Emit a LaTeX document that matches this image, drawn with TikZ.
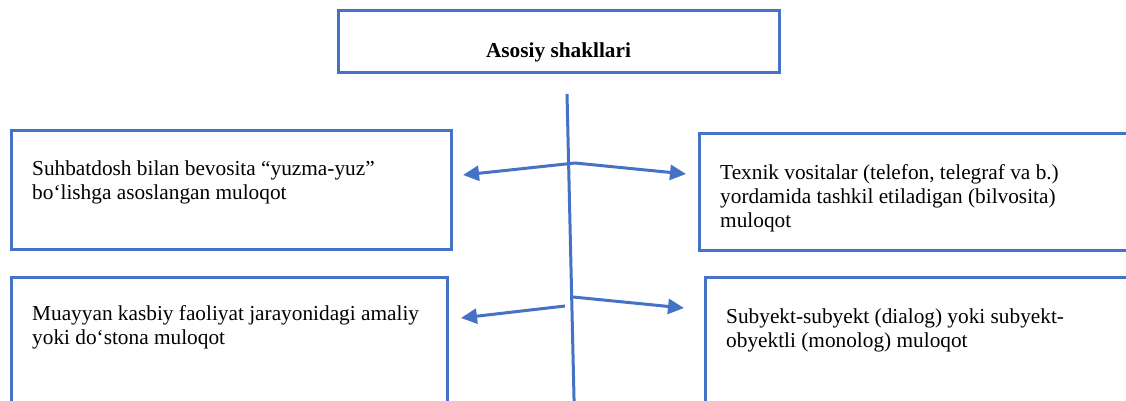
\documentclass[tikz,border=0pt]{standalone}
\usepackage{fontspec}
\setmainfont{Liberation Serif}
\usetikzlibrary{arrows.meta}
\definecolor{officeblue}{HTML}{4472C4}
\tikzset{
  boxshape/.style={draw=officeblue, line width=3pt, rectangle, inner sep=0pt},
  label/.style={anchor=base west, inner sep=0pt, font=\fontsize{21.3}{24}\selectfont, text=black},
  conn/.style={draw=officeblue, line width=3pt},
  arr/.style={conn, -{Triangle[length=16pt,width=15pt]}}
}
\begin{document}
\begin{tikzpicture}[x=1pt,y=-1pt]
\useasboundingbox (0,0) rectangle (1126,401);
\clip (0,0) rectangle (1126,401);
\fill[white] (0,0) rectangle (1126,401);
% boxes
\node[boxshape, minimum width=441pt, minimum height=62pt] (top) at (558.5,42) {};
\node[boxshape, minimum width=440pt, minimum height=119pt] (lb1) at (231,189.5) {};
\node[boxshape, minimum width=500pt, minimum height=117pt] (rb1) at (949,191.5) {};
\node[boxshape, minimum width=436pt, minimum height=243pt] (lb2) at (229,398.5) {};
\node[boxshape, minimum width=500pt, minimum height=243pt] (rb2) at (955,398.5) {};
% texts
\node[anchor=base, inner sep=0pt, font=\fontsize{21.3}{24}\selectfont\bfseries] (title) at (558.5,58) {Asosiy shakllari};
\node[label] (l1a) at (32,175) {Suhbatdosh bilan bevosita “yuzma-yuz”};
\node[label] (l1b) at (32,199) {bo‘lishga asoslangan muloqot};
\node[label] (r1a) at (720,179) {Texnik vositalar (telefon, telegraf va b.)};
\node[label] (r1b) at (720,203) {yordamida tashkil etiladigan (bilvosita)};
\node[label] (r1c) at (720,227) {muloqot};
\node[label] (l2a) at (32,320) {Muayyan kasbiy faoliyat jarayonidagi amaliy};
\node[label] (l2b) at (32,344) {yoki do‘stona muloqot};
\node[label] (r2a) at (726,323) {Subyekt-subyekt (dialog) yoki subyekt-};
\node[label] (r2b) at (726,347) {obyektli (monolog) muloqot};
% spine
\coordinate (spinetop) at (567,94);
\coordinate (spinebot) at (574.5,420);
\draw[conn] (spinetop) -- (spinebot);
% arrows
\coordinate (j1) at (575,163);
\coordinate (t1l) at (463,175);
\coordinate (t1r) at (686,174);
\coordinate (s2l) at (565,306);
\coordinate (t2l) at (461,318);
\coordinate (j2) at (573,297);
\coordinate (t2r) at (684,308);
\draw[arr] (j1) -- (t1l);
\draw[arr] (j1) -- (t1r);
\draw[arr] (s2l) -- (t2l);
\draw[arr] (j2) -- (t2r);
\end{tikzpicture}
\end{document}
